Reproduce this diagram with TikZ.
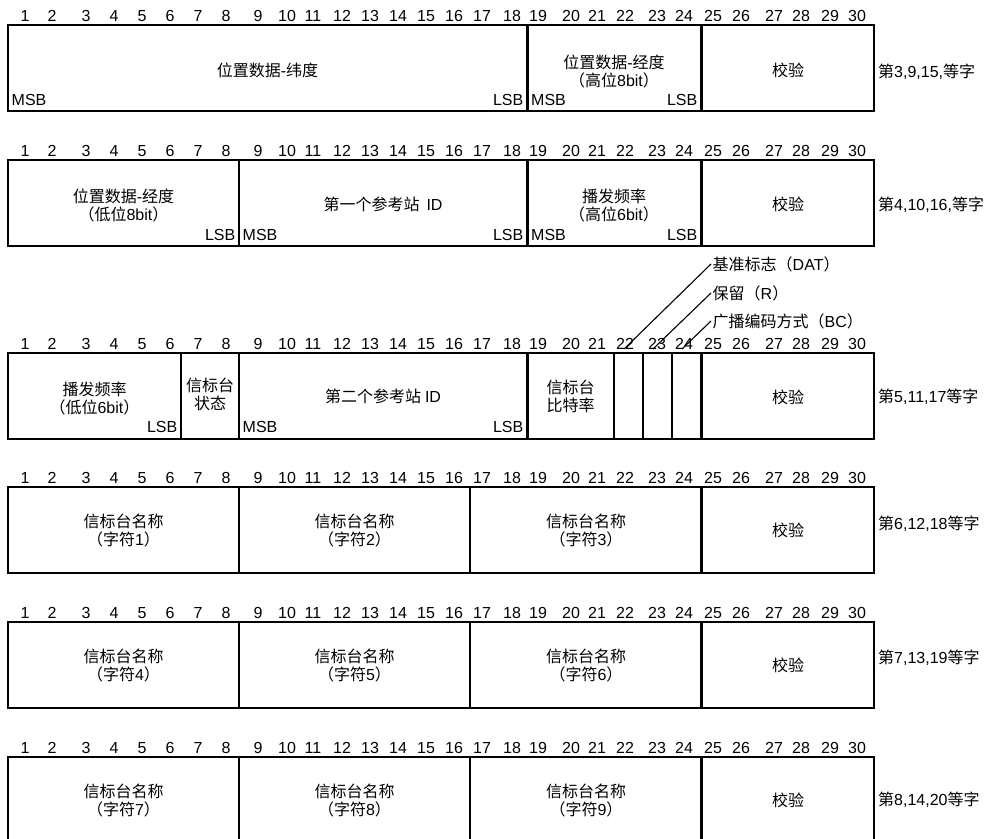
\documentclass[tikz,border=0pt]{standalone}
\usepackage{fontspec}
\setmainfont{Liberation Sans}
\newfontfamily\zhfont{Noto Sans CJK SC}
\newcommand\zh[1]{{\zhfont #1}}
\newcommand\fcell[4]{%
  \pgfmathsetmacro\cw{#3-#2}%
  \pgfmathsetmacro\cx{(#2+#3)/2}%
  \pgfmathsetmacro\cy{#4+43}%
  \node[cell, minimum width=\cw pt] (#1) at (\cx,\cy) {};}
\newcommand\bitruler[2]{%
  \foreach \i/\x in {1/25,2/52,3/86,4/114,5/142,6/170,7/198,8/226,9/258,10/287,11/313,12/342,13/370,14/398,15/426,16/454,17/482,18/512,19/538,20/571,21/597,22/625,23/657,24/684,25/713,26/741,27/774,28/801,29/830,30/857}
    {\node[num] (#1n\i) at (\x,#2-4) {\i};}}
\begin{document}
\begin{tikzpicture}[x=1pt,y=-1pt,
  cell/.style={draw, line width=2.8pt, rectangle, minimum height=86pt, inner sep=0pt},
  txt/.style={font=\fontsize{16}{18}\selectfont, inner sep=0pt, align=center},
  num/.style={font=\fontsize{16}{18}\selectfont, inner sep=0pt, anchor=base},
  side/.style={font=\fontsize{16}{18}\selectfont, inner sep=0pt, anchor=west},
  msb/.style={font=\fontsize{16}{18}\selectfont, inner sep=0pt, anchor=base west},
  lsb/.style={font=\fontsize{16}{18}\selectfont, inner sep=0pt, anchor=base east},
  lead/.style={line width=1.1pt},
  ldl/.style={font=\fontsize{16}{18}\selectfont, inner sep=1.5pt, anchor=west}]
\useasboundingbox (0,0) rectangle (987,838);
\clip (0,0) rectangle (987,838);

% ---------- Row 1 ----------
\bitruler{a}{25}
\fcell{r1a}{8}{527.5}{25}
\fcell{r1b}{527.5}{701.5}{25}
\fcell{r1c}{701.5}{874}{25}
\node[txt] (t1a) at (267.5,70) {\zh{位置数据}-\zh{纬度}};
\node[txt] (t1b) at (614,71) {\zh{位置数据}-\zh{经度}\\\zh{（高位}8bit\zh{）}};
\node[txt] (t1c) at (788,70) {\zh{校验}};
\node[msb] (m1a) at (11.5,105) {MSB};
\node[lsb] (l1a) at (523.5,105) {LSB};
\node[msb] (m1b) at (531,105) {MSB};
\node[lsb] (l1b) at (697.5,105) {LSB};
\node[side] (s1) at (878,72) {\zh{第}3,9,15,\zh{等字}};

% ---------- Row 2 ----------
\bitruler{b}{160}
\fcell{r2a}{8}{239}{160}
\fcell{r2b}{239}{527.5}{160}
\fcell{r2c}{527.5}{701.5}{160}
\fcell{r2d}{701.5}{874}{160}
\node[txt] (t2a) at (123.5,205) {\zh{位置数据}-\zh{经度}\\\zh{（低位}8bit\zh{）}};
\node[lsb] (l2a) at (235.5,240) {LSB};
\node[txt] (t2b) at (383,204) {\zh{第一个参考站}\hspace{7pt}ID};
\node[msb] (m2b) at (242.5,240) {MSB};
\node[lsb] (l2b) at (523.5,240) {LSB};
\node[txt] (t2c) at (614,205) {\zh{播发频率}\\\zh{（高位}6bit\zh{）}};
\node[msb] (m2c) at (531,240) {MSB};
\node[lsb] (l2c) at (697.5,240) {LSB};
\node[txt] (t2d) at (788,204) {\zh{校验}};
\node[side] (s2) at (878,205) {\zh{第}4,10,16,\zh{等字}};

% ---------- leader labels ----------
\node[ldl] (dat) at (711,264) {\zh{基准标志（}DAT\zh{）}};
\node[ldl] (res) at (711,293) {\zh{保留（}R\zh{）}};
\node[ldl] (bcm) at (711,321) {\zh{广播编码方式（}BC\zh{）}};
\coordinate (p22) at (624,349);
\coordinate (p23) at (653,349);
\coordinate (p24) at (682,349);
\draw[lead] (dat.west) -- (p22);
\draw[lead] (res.west) -- (p23);
\draw[lead] (bcm.west) -- (p24);

% ---------- Row 3 ----------
\bitruler{c}{353}
\fcell{r3a}{8}{181}{353}
\fcell{r3b}{181}{239}{353}
\fcell{r3c}{239}{527.5}{353}
\fcell{r3d}{527.5}{614}{353}
\fcell{r3e}{614}{643}{353}
\fcell{r3f}{643}{672}{353}
\fcell{r3g}{672}{701.5}{353}
\fcell{r3h}{701.5}{874}{353}
\node[txt] (t3a) at (94.5,398) {\zh{播发频率}\\\zh{（低位}6bit\zh{）}};
\node[lsb] (l3a) at (177.5,432) {LSB};
\node[txt] (t3b) at (210,394) {\zh{信标台}\\\zh{状态}};
\node[txt] (t3c) at (383,396) {\zh{第二个参考站}\hspace{4pt}ID};
\node[msb] (m3c) at (242.5,432) {MSB};
\node[lsb] (l3c) at (523.5,432) {LSB};
\node[txt] (t3d) at (570.5,396) {\zh{信标台}\\\zh{比特率}};
\node[txt] (t3e) at (788,397) {\zh{校验}};
\node[side] (s3) at (878,397) {\zh{第}5,11,17\zh{等字}};

% ---------- Row 4 ----------
\bitruler{d}{487}
\fcell{r4a}{8}{239}{487}
\fcell{r4b}{239}{470}{487}
\fcell{r4c}{470}{701.5}{487}
\fcell{r4d}{701.5}{874}{487}
\node[txt] (t4a) at (123.5,531) {\zh{信标台名称}\\\zh{（字符}1\zh{）}};
\node[txt] (t4b) at (354.5,531) {\zh{信标台名称}\\\zh{（字符}2\zh{）}};
\node[txt] (t4c) at (586,531) {\zh{信标台名称}\\\zh{（字符}3\zh{）}};
\node[txt] (t4d) at (788,530) {\zh{校验}};
\node[side] (s4) at (878,524) {\zh{第}6,12,18\zh{等字}};

% ---------- Row 5 ----------
\bitruler{e}{622}
\fcell{r5a}{8}{239}{622}
\fcell{r5b}{239}{470}{622}
\fcell{r5c}{470}{701.5}{622}
\fcell{r5d}{701.5}{874}{622}
\node[txt] (t5a) at (123.5,666) {\zh{信标台名称}\\\zh{（字符}4\zh{）}};
\node[txt] (t5b) at (354.5,666) {\zh{信标台名称}\\\zh{（字符}5\zh{）}};
\node[txt] (t5c) at (586,666) {\zh{信标台名称}\\\zh{（字符}6\zh{）}};
\node[txt] (t5d) at (788,665) {\zh{校验}};
\node[side] (s5) at (878,658) {\zh{第}7,13,19\zh{等字}};

% ---------- Row 6 ----------
\bitruler{f}{757}
\fcell{r6a}{8}{239}{757}
\fcell{r6b}{239}{470}{757}
\fcell{r6c}{470}{701.5}{757}
\fcell{r6d}{701.5}{874}{757}
\node[txt] (t6a) at (123.5,801) {\zh{信标台名称}\\\zh{（字符}7\zh{）}};
\node[txt] (t6b) at (354.5,801) {\zh{信标台名称}\\\zh{（字符}8\zh{）}};
\node[txt] (t6c) at (586,801) {\zh{信标台名称}\\\zh{（字符}9\zh{）}};
\node[txt] (t6d) at (788,800) {\zh{校验}};
\node[side] (s6) at (878,800) {\zh{第}8,14,20\zh{等字}};
\end{tikzpicture}
\end{document}
